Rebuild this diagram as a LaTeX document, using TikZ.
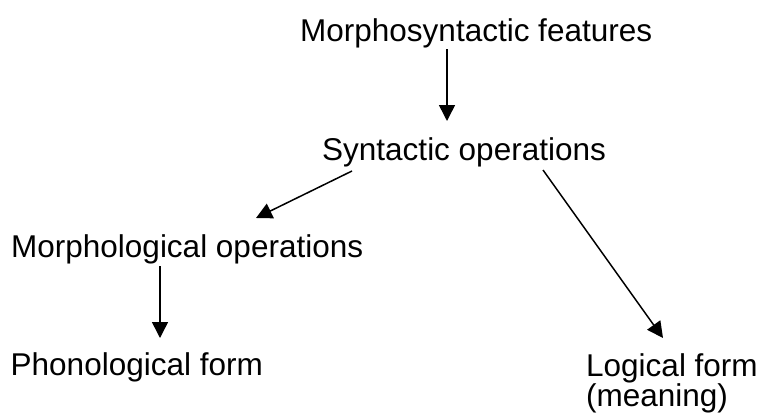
\documentclass[tikz,border=0pt]{standalone}
\usepackage{fontspec}
\setmainfont{Liberation Sans}
\usetikzlibrary{arrows.meta}
\begin{document}
\begin{tikzpicture}[x=1pt,y=-1pt,
  lbl/.style={anchor=base west,inner sep=0pt,font=\fontsize{31.5}{30}\selectfont},
  arr/.style={line width=1.5pt,-{Triangle[length=16pt,width=16pt]}}]
\useasboundingbox (0,0) rectangle (763,418);
\node[lbl] (mf) at (300,41) {Morphosyntactic features};
\node[lbl] (so) at (322,160) {Syntactic operations};
\node[lbl] (mo) at (11,257) {Morphological operations};
\node[lbl] (pf) at (10.5,375) {Phonological form};
\node[lbl] (lf) at (586,376) {Logical form};
\node[lbl] (lfm) at (586,406) {(meaning)};
\coordinate (a1s) at (447,49);  \coordinate (a1e) at (447,121);
\coordinate (a2s) at (352,171); \coordinate (a2e) at (256,218);
\coordinate (a3s) at (160,266); \coordinate (a3e) at (160,338);
\coordinate (a4s) at (543,170); \coordinate (a4e) at (663,338);
\draw[arr] (a1s) -- (a1e);
\draw[arr] (a2s) -- (a2e);
\draw[arr] (a3s) -- (a3e);
\draw[arr] (a4s) -- (a4e);
\end{tikzpicture}
\end{document}
